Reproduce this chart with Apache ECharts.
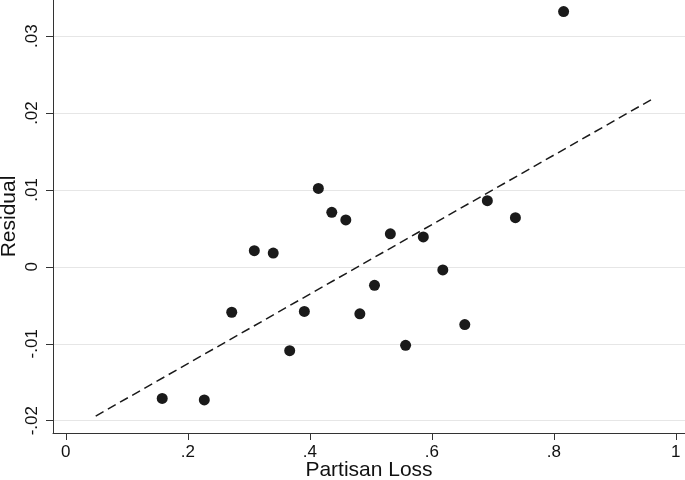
<!DOCTYPE html>
<html>
<head>
<meta charset="utf-8">
<script src="https://cdn.jsdelivr.net/npm/echarts@6/dist/echarts.min.js"></script>
<style>
  html, body { margin: 0; padding: 0; background: #fff; }
  #chart { width: 685px; height: 480px; }
</style>
</head>
<body>
<div id="chart"></div>
<script>
// partisan loss (x) vs residual (y)
const lossValues = [0.158, 0.227, 0.272, 0.309, 0.340, 0.367, 0.391, 0.414, 0.436, 0.459,
  0.482, 0.506, 0.532, 0.557, 0.586, 0.618, 0.654, 0.691, 0.737, 0.816];
const residualValues = [-0.0171, -0.0173, -0.0059, 0.0021, 0.0018, -0.0109, -0.0058, 0.0102, 0.0071, 0.0061,
  -0.0061, -0.0024, 0.0043, -0.0102, 0.0039, -0.0004, -0.0075, 0.0086, 0.0064, 0.0332];

// ends of the dashed fit line
const fitX = [0.049, 0.961];
const fitY = [-0.0194, 0.0218];

const xTicks = [0, 0.2, 0.4, 0.6, 0.8, 1];
const yTicks = [-0.02, -0.01, 0, 0.01, 0.02, 0.03];

// stata-ish number format: .2 instead of 0.2
const fmt = (v) => {
  if (v === 0) return '0';
  if (v === 1) return '1';
  let s = String(Math.round(v * 1000) / 1000);
  return s.replace('0.', '.');
};

const chart = echarts.init(document.getElementById('chart'));

const option = {
  backgroundColor: '#fff',
  animation: false,
  textStyle: { fontFamily: 'Liberation Sans, Arial, sans-serif' },
  grid: {
    left: 53,
    right: 0,
    top: 0,
    bottom: 47,
    containLabel: false,
    outerBoundsMode: 'none',
  },
  xAxis: {
    type: 'value',
    min: -0.021,
    max: 1.015,
    name: 'Partisan Loss',
    nameLocation: 'middle',
    nameGap: 27,
    nameMoveOverlap: false,
    nameTextStyle: { fontSize: 21, color: '#111' },
    axisLine: { show: true, onZero: false, lineStyle: { color: '#333', width: 1 } },
    axisTick: { show: true, length: 7, customValues: xTicks, lineStyle: { color: '#333' } },
    axisLabel: {
      customValues: xTicks,
      formatter: fmt,
      fontSize: 17,
      color: '#111',
      margin: 11,
    },
    splitLine: { show: false },
  },
  yAxis: {
    type: 'value',
    min: -0.0216,
    max: 0.0347,
    name: 'Residual',
    nameLocation: 'middle',
    nameGap: 33,
    nameRotate: 90,
    nameMoveOverlap: false,
    nameTextStyle: { fontSize: 21, color: '#111' },
    axisLine: { show: true, onZero: false, lineStyle: { color: '#333', width: 1 } },
    axisTick: { show: true, length: 7, customValues: yTicks, lineStyle: { color: '#333' } },
    axisLabel: {
      customValues: yTicks,
      formatter: fmt,
      rotate: 90,
      fontSize: 17,
      color: '#111',
      margin: 12,
    },
    splitLine: { show: true, lineStyle: { color: '#e6e6e6', width: 1 } },
  },
  series: [
    {
      name: 'fit',
      type: 'line',
      data: fitX.map((x, i) => [x, fitY[i]]),
      symbol: 'none',
      lineStyle: { color: '#1a1a1a', width: 1.5, type: [9, 5] },
      silent: true,
    },
    {
      name: 'residual',
      type: 'scatter',
      data: lossValues.map((x, i) => [x, residualValues[i]]),
      symbolSize: 11,
      itemStyle: { color: '#1a1a1a', opacity: 1 },
    },
  ],
};

chart.setOption(option);
</script>
</body>
</html>
